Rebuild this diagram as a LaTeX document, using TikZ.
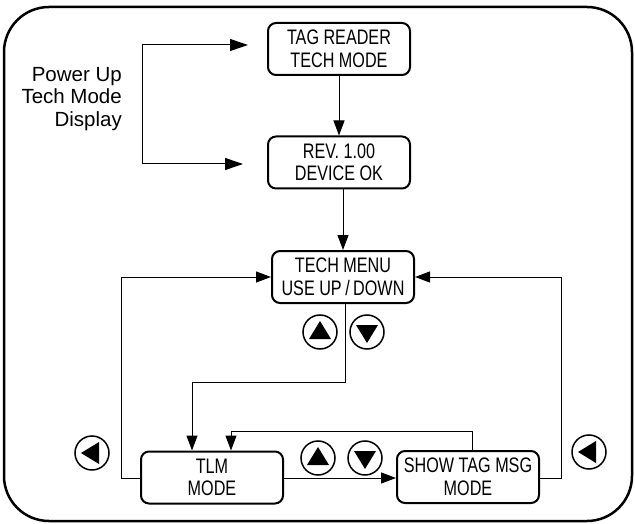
\documentclass[tikz,border=0pt]{standalone}
\usepackage{fontspec}
\setmainfont{Liberation Sans}
\newfontfamily\narrowfont[FakeStretch=0.77]{Liberation Sans}
\usetikzlibrary{arrows.meta,calc}
\begin{document}
\begin{tikzpicture}[x=1pt,y=-1pt,
  box/.style={draw,line width=2pt,rounded corners=8pt,minimum width=142pt,minimum height=52pt,inner sep=0pt,align=center,font=\narrowfont\fontsize{21}{22.5}\selectfont},
  conn/.style={line width=1pt,-{Triangle[length=15pt,width=11pt]}},
  bigconn/.style={line width=1pt,{Triangle[length=18pt,width=12pt]}-{Triangle[length=18pt,width=12pt]}},
  btn/.style={draw,circle,line width=1.5pt,minimum size=34pt,inner sep=0pt},
  frame/.style={draw,line width=2.5pt,rounded corners=45pt},
]
\useasboundingbox (0,0) rectangle (635,524);
\draw[frame] (4,7) rectangle (632,521);

% boxes
\node[box] (tag)  at (339,49)    {TAG READER\\TECH MODE};
\node[box] (rev)  at (339,162.5) {REV. 1.00\\DEVICE OK};
\node[box] (menu) at (343,277)   {TECH MENU\\USE UP\,/\,DOWN};
\node[box] (tlm)  at (212,477.5) {TLM\\MODE};
\node[box] (show) at (468,477)   {SHOW TAG MSG\\MODE};

% power up label
\node[anchor=east,align=right,inner sep=0pt,font=\fontsize{20.5}{22.5}\selectfont] (pwr) at (122,99) {Power Up\\Tech Mode\\Display};

% power-up bracket
\coordinate (ptop) at (248,45);
\coordinate (pleft) at (142,45);
\coordinate (pbot) at (243,164);
\draw[bigconn] (ptop) -- (pleft) |- (pbot);

% vertical chain
\draw[conn] (tag.south) -- (rev.north);
\draw[conn] ($(rev.south)+(4,0)$) -- (menu.north);

% menu down to TLM
\coordinate (m1) at ($(menu.south)+(2,0)$);
\coordinate (m2) at ($(tlm.north)+(-20,0)$);
\draw[conn] (m1) -- (m1 |- 0,382) -| (m2);

% show back to TLM
\coordinate (s1) at ($(show.north)+(4,0)$);
\coordinate (s2) at ($(tlm.north)+(19,0)$);
\draw[conn] (s1) -- (s1 |- 0,431) -| (s2);

% TLM back to menu (left loop)
\coordinate (lx) at (121,478);
\draw[conn] (tlm.west |- lx) -- (lx) |- (menu.west);

% TLM to show
\draw[conn] (tlm.east |- lx) -- (show.west |- lx);

% show back to menu (right loop)
\coordinate (rx) at (561,478);
\draw[conn] (show.east |- rx) -- (rx) |- (menu.east);

% buttons
\node[btn] (bl1) at (92,453) {};
\node[btn] (bl2) at (589,452) {};
\node[btn] (bu1) at (320,332) {};
\node[btn] (bd1) at (367,332) {};
\node[btn] (bu2) at (318,458) {};
\node[btn] (bd2) at (365,458) {};
\foreach \c in {bu1,bu2}{
  \fill ($(\c)+(-11,7)$) -- ($(\c)+(11,7)$) -- ($(\c)+(0,-11)$) -- cycle;
}
\foreach \c in {bd1,bd2}{
  \fill ($(\c)+(-11,-7)$) -- ($(\c)+(11,-7)$) -- ($(\c)+(0,11)$) -- cycle;
}
\foreach \c in {bl1,bl2}{
  \fill ($(\c)+(7,-11)$) -- ($(\c)+(7,11)$) -- ($(\c)+(-11,0)$) -- cycle;
}
\end{tikzpicture}
\end{document}
